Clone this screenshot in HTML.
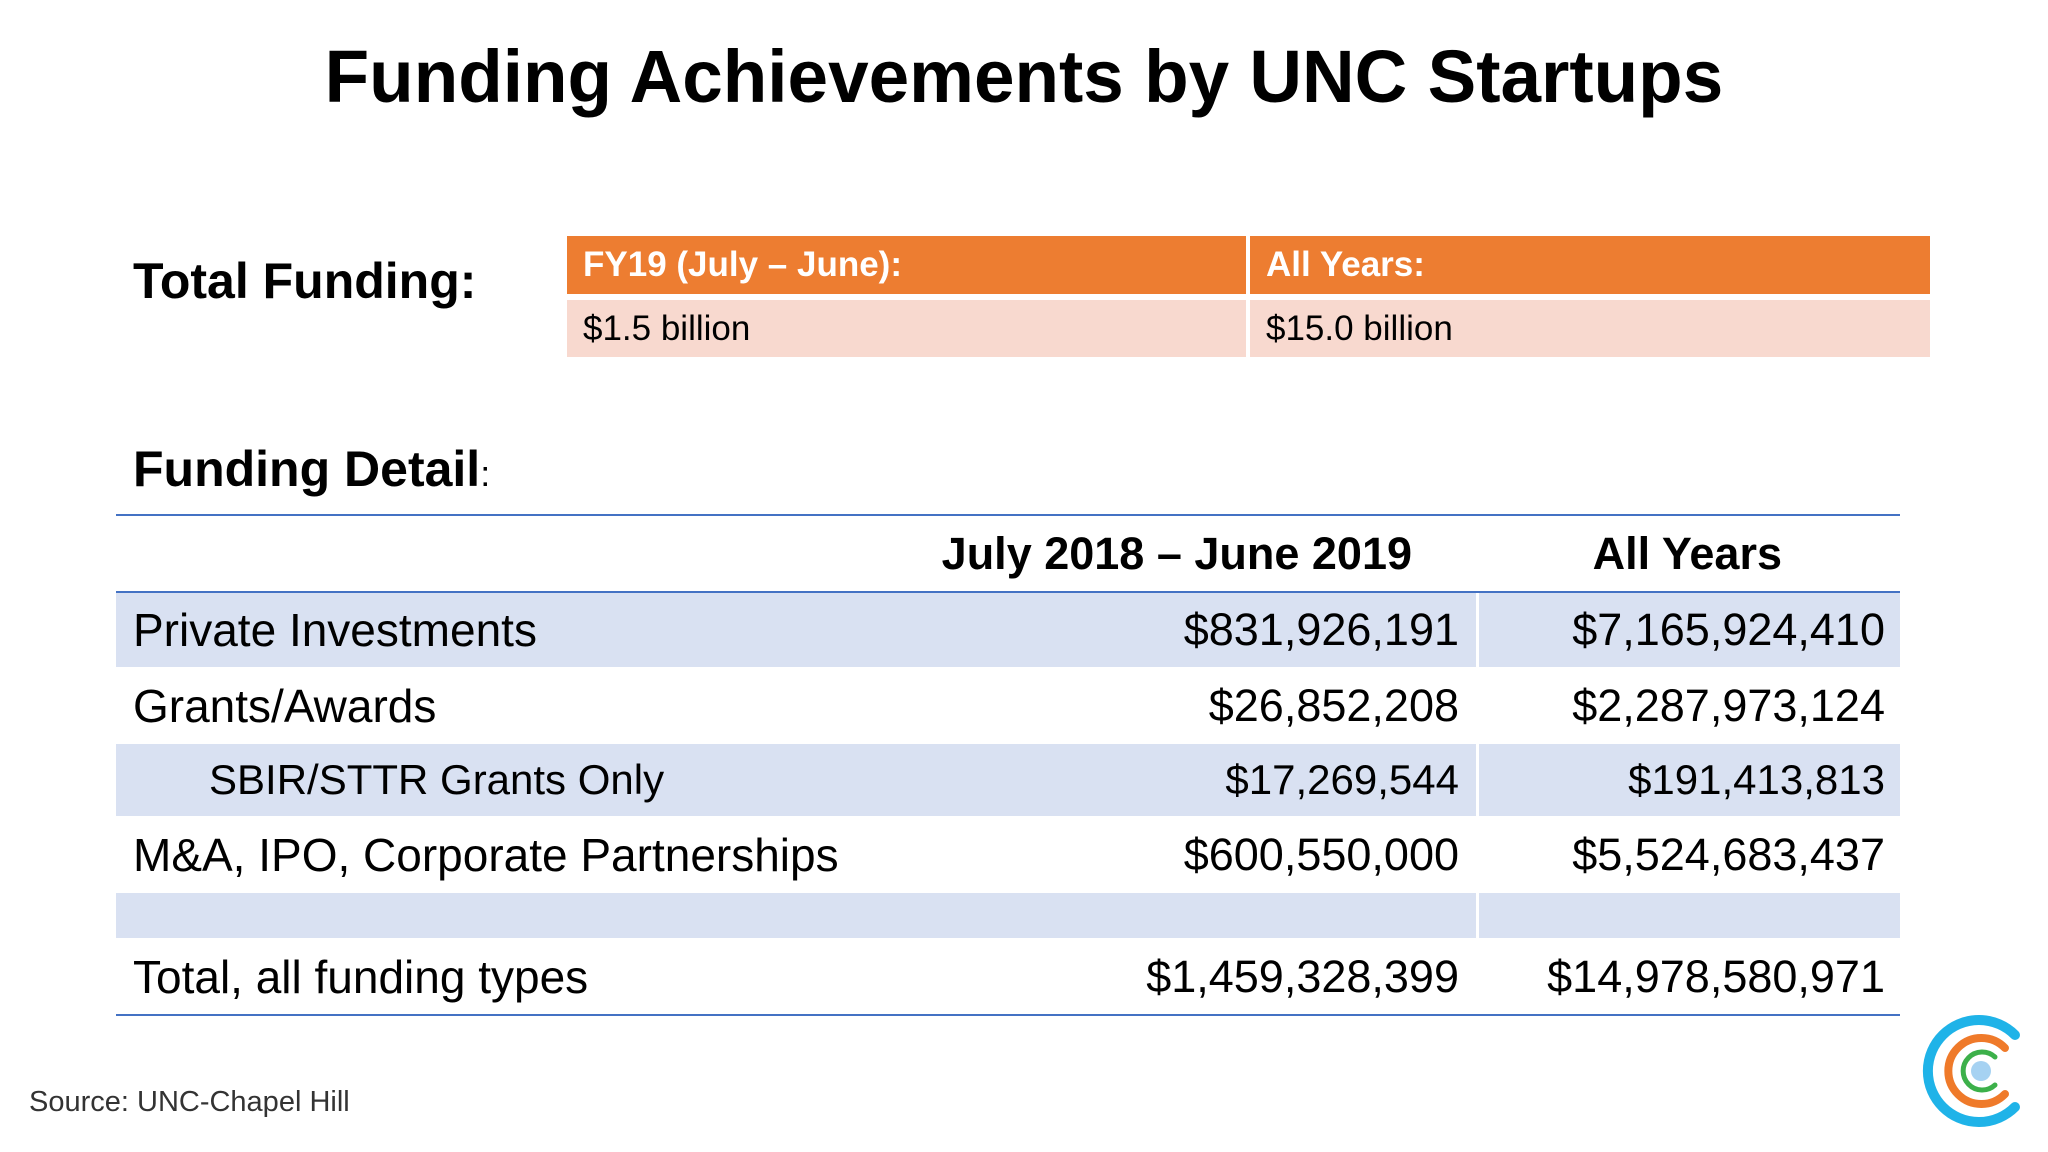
<!DOCTYPE html>
<html><head><meta charset="utf-8"><style>
body{margin:0;width:2048px;height:1152px;background:#fff;position:relative;overflow:hidden;font-family:"Liberation Sans",sans-serif;color:#000}
.a{position:absolute;white-space:nowrap}
.title{left:0;width:2048px;top:34px;text-align:center;font-size:74px;font-weight:bold}
.title span{display:inline-block;transform:scaleX(0.985)}
.h2{font-size:50px;font-weight:bold;left:133px;transform-origin:left;transform:scaleX(1.0)}
.cell{position:absolute;box-sizing:border-box;padding-left:16px;font-size:35px;display:flex;align-items:center}
.row{position:absolute;left:116px;width:1784px}
.lbl{position:absolute;left:17px;font-size:46px;top:50%;transform:translateY(-50%)}
.v1,.v2{position:absolute;font-size:45px;top:50%;transform:translateY(-50%);text-align:right}
.v1{right:441px}.v2{right:15px}
.blue{background:#d9e1f2}
.sep{position:absolute;left:1360px;top:0;bottom:0;width:3px;background:#fff}
.line{position:absolute;left:116px;width:1784px;height:2px;background:#4472c4}
</style></head><body>
<div class="a title"><span>Funding Achievements by UNC Startups</span></div>
<div class="a h2" style="top:252px">Total Funding:</div>
<div class="cell" style="left:567px;top:236px;width:679px;height:58px;background:#ed7d31;color:#fff;font-weight:bold">FY19 (July – June):</div>
<div class="cell" style="left:1250px;top:236px;width:680px;height:58px;background:#ed7d31;color:#fff;font-weight:bold">All Years:</div>
<div class="cell" style="left:567px;top:300px;width:679px;height:57px;background:#f8d9cf">$1.5 billion</div>
<div class="cell" style="left:1250px;top:300px;width:680px;height:57px;background:#f8d9cf">$15.0 billion</div>
<div class="a h2" style="top:440px">Funding Detail<span style="font-weight:normal;font-size:36px">:</span></div>
<div class="line" style="top:514px"></div>
<div class="row" style="top:516px;height:76px">
<div class="v1" style="font-weight:bold;right:488px">July 2018 – June 2019</div>
<div class="v2" style="font-weight:bold;right:118px">All Years</div></div>
<div class="line" style="top:591px"></div>
<div class="row blue" style="top:593px;height:74px"><div class="sep"></div><div class="lbl">Private Investments</div><div class="v1">$831,926,191</div><div class="v2">$7,165,924,410</div></div>
<div class="row" style="top:667px;height:77px"><div class="lbl">Grants/Awards</div><div class="v1">$26,852,208</div><div class="v2">$2,287,973,124</div></div>
<div class="row blue" style="top:744px;height:72px"><div class="sep"></div><div class="lbl" style="left:93px;font-size:42px">SBIR/STTR Grants Only</div><div class="v1" style="font-size:42px">$17,269,544</div><div class="v2" style="font-size:42px">$191,413,813</div></div>
<div class="row" style="top:816px;height:77px"><div class="lbl">M&amp;A, IPO, Corporate Partnerships</div><div class="v1">$600,550,000</div><div class="v2">$5,524,683,437</div></div>
<div class="row blue" style="top:893px;height:45px"><div class="sep"></div></div>
<div class="row" style="top:938px;height:77px"><div class="lbl">Total, all funding types</div><div class="v1">$1,459,328,399</div><div class="v2">$14,978,580,971</div></div>
<div class="line" style="top:1014px"></div>
<div class="a" style="left:29px;top:1086px;font-size:29px;color:#333">Source: UNC-Chapel Hill</div>
<svg class="a" style="left:1919px;top:1011px" width="120" height="120" viewBox="0 0 120 120">
<g fill="none" stroke-linecap="round">
<path d="M96 24 A51 51 0 1 0 96 96" stroke="#1fb3e8" stroke-width="10"/>
<path d="M86 37 A33 33 0 1 0 86 83" stroke="#ef7a2a" stroke-width="8"/>
<path d="M76 46 A19 19 0 1 0 76 74" stroke="#3cb04a" stroke-width="5"/>
</g><circle cx="62" cy="60" r="10" fill="#a6d2f2"/></svg>
</body></html>
